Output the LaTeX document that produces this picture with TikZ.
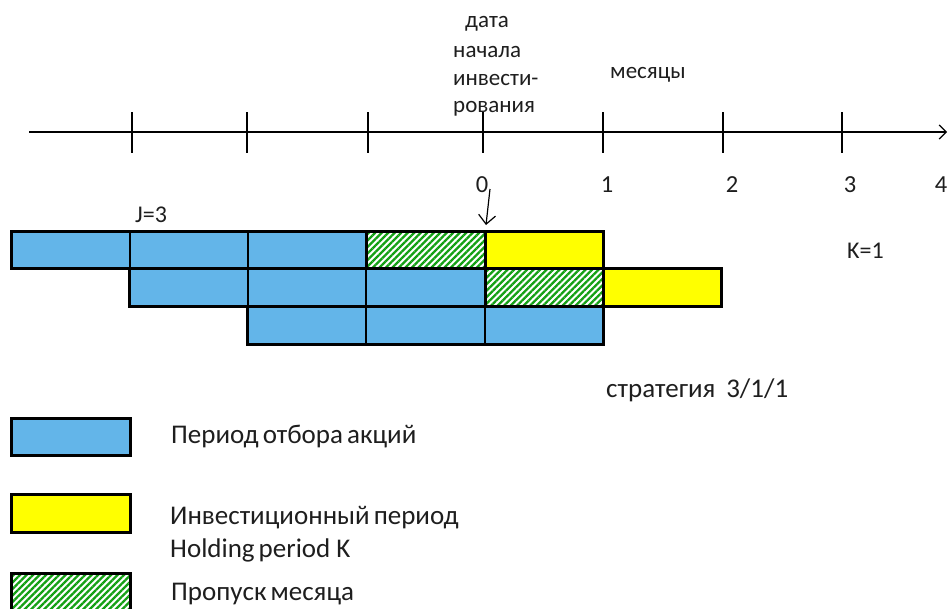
\documentclass[tikz,border=0pt]{standalone}
\usepackage{fontspec}
\setmainfont{Carlito}
\usetikzlibrary{patterns.meta,arrows.meta}
\definecolor{selblue}{RGB}{99,181,233}
\definecolor{holdyel}{RGB}{255,255,0}
\definecolor{skipgreen}{RGB}{20,160,20}
\definecolor{txt}{RGB}{30,30,30}
\tikzset{
  txtnode/.style={inner sep=0pt, anchor=base west, text=txt, font=\fontsize{23}{27}\selectfont},
  latnode/.style={txtnode, font=\fontsize{24}{28}\selectfont},
  legtxt/.style={txtnode, font=\fontsize{27}{31}\selectfont},
  numnode/.style={inner sep=0pt, anchor=base, text=txt, font=\fontsize{24.5}{28}\selectfont},
  cellline/.style={draw=black, line width=1.3pt},
  selcell/.style={cellline, fill=selblue},
  holdcell/.style={cellline, fill=holdyel},
  skipcell/.style={cellline, preaction={fill=white}, pattern={Lines[angle=45,distance=4.6pt,line width=2.3pt]}, pattern color=skipgreen},
  outline/.style={draw=black, line width=3pt},
  tickline/.style={draw=black, line width=1.4pt},
}
\begin{document}
\begin{tikzpicture}[x=1pt,y=-1pt]
\useasboundingbox (0,0) rectangle (948,608);
% axis
\coordinate (axl) at (29,132);
\coordinate (axr) at (947,132);
\draw[line width=1.4pt, -{Straight Barb[length=7pt,width=14pt,line width=1.2pt]}] (axl) -- (axr);
\foreach \x in {132,247,368,483,603,723,842}{
  \draw[tickline] (\x,112) -- (\x,153);
}
% tick labels
\node[numnode] (l0) at (482,192) {0};
\node[numnode] (l1) at (607,192) {1};
\node[numnode] (l2) at (732,192) {2};
\node[numnode] (l3) at (850,192) {3};
\node[numnode] (l4) at (941,192) {4};
% top texts
\node[txtnode] (t1) at (465,27) {дата};
\node[txtnode] (t2) at (453,57) {начала};
\node[txtnode] (t3) at (453,85) {инвести-};
\node[txtnode] (t4) at (453,112) {рования};
\node[txtnode] (mes) at (610,78) {месяцы};
% arrow to start date
\coordinate (arrstart) at (490,189);
\coordinate (arrtip) at (486,225);
\draw[line width=1.2pt, -{Straight Barb[length=9pt,width=17pt,line width=1.2pt]}] (arrstart) -- (arrtip);
\node[latnode] (jlab) at (135,222) {J=3};
\node[latnode] (klab) at (847,258) {K=1};
% row 1
\path[selcell] (11,231) rectangle (130,268);
\path[selcell] (130,231) rectangle (248,268);
\path[selcell] (248,231) rectangle (366,268);
\path[skipcell] (366,231) rectangle (485,268);
\path[holdcell] (485,231) rectangle (603,268);
% row 2
\path[selcell] (129,268) rectangle (248,306);
\path[selcell] (248,268) rectangle (366,306);
\path[selcell] (366,268) rectangle (485,306);
\path[skipcell] (485,268) rectangle (603,306);
\path[holdcell] (603,268) rectangle (721,306);
% row 3
\path[selcell] (247,306) rectangle (366,344);
\path[selcell] (366,306) rectangle (485,344);
\path[selcell] (485,306) rectangle (603,344);
% outlines
\draw[outline] (11,231) rectangle (603,268);
\draw[outline] (129,268) rectangle (721,306);
\draw[outline] (247,306) rectangle (603,344);
\draw[outline] (366,231) rectangle (485,268);
\draw[outline] (485,268) rectangle (603,306);
\draw[outline] (603,268) rectangle (721,306);
\draw[outline] (485,231) rectangle (603,268);
\node[legtxt] (strat) at (606,397) {стратегия\hspace{0.4em}3/1/1};
% legend
\path[selcell, outline] (11,418) rectangle (130,455);
\path[holdcell, outline] (11,494) rectangle (130,532);
\path[skipcell, outline] (11,573) rectangle (130,612);
\node[legtxt] (lg1) at (171,443) {Период\hspace{0.15em}отбора\hspace{0.15em}акций};
\node[legtxt] (lg2) at (170,524) {Инвестиционный\hspace{0.15em}период};
\node[legtxt] (lg3) at (170,557) {Holding\hspace{0.15em}period K};
\node[legtxt] (lg4) at (171,600) {Пропуск\hspace{0.15em}месяца};
\end{tikzpicture}
\end{document}
